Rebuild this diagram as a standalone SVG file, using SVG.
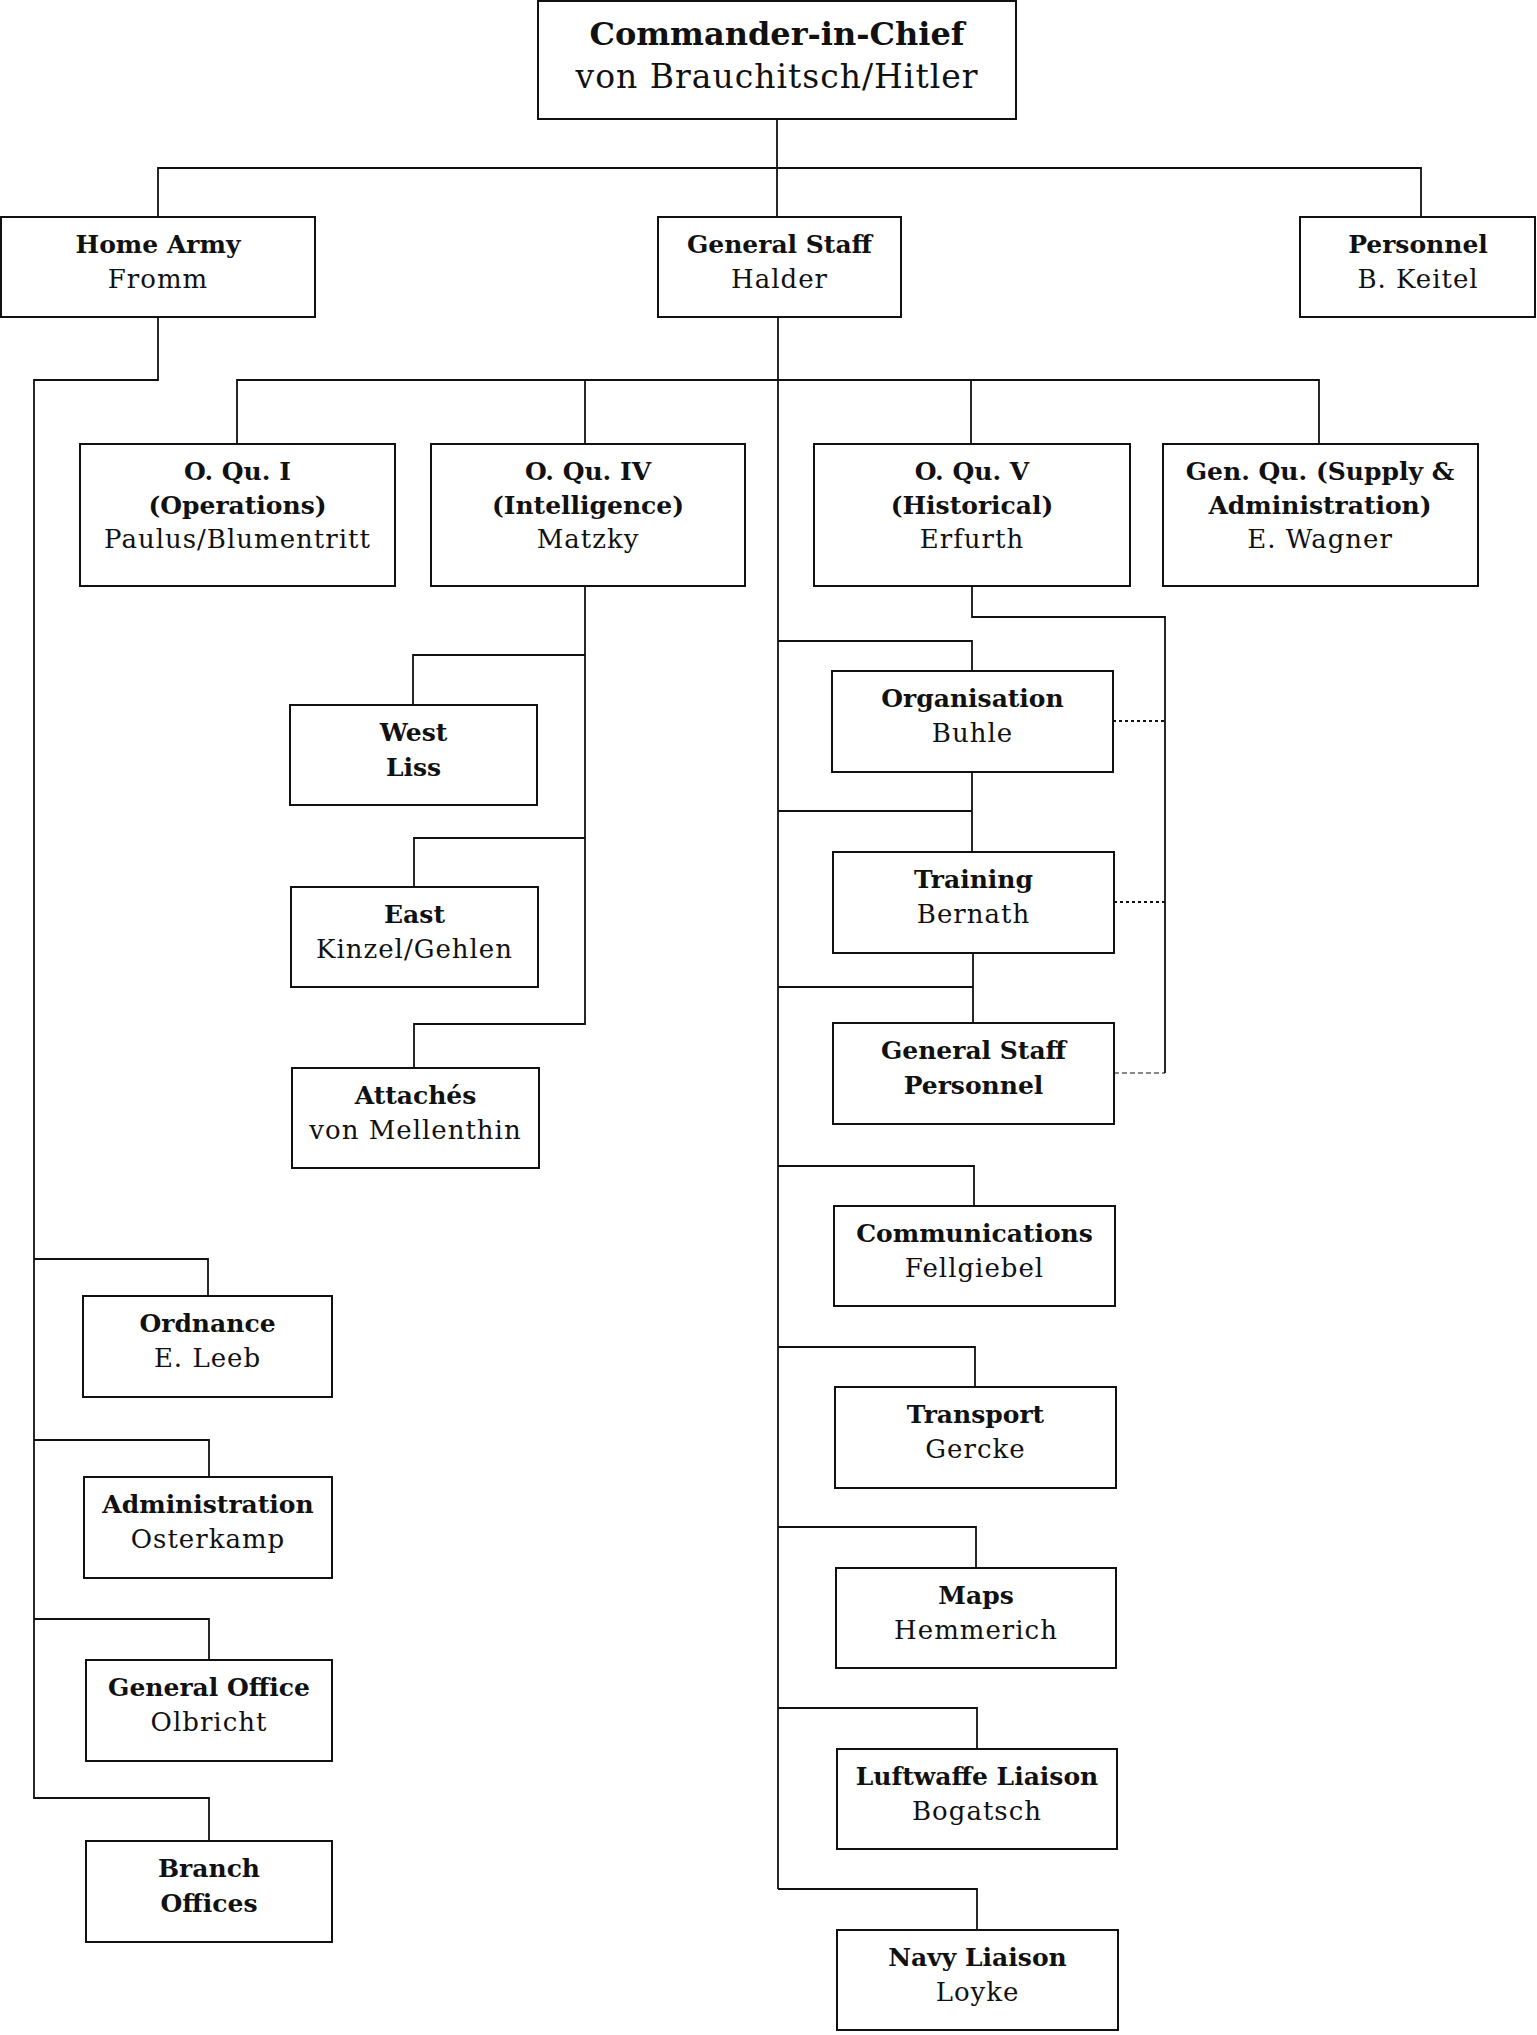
<svg xmlns="http://www.w3.org/2000/svg" width="1537" height="2035" viewBox="0 0 1537 2035">
<style>
.box{fill:#fff;stroke:#111;stroke-width:2}
text{font-family:"DejaVu Serif","Liberation Serif",serif;font-size:26px;letter-spacing:1px;text-anchor:middle;fill:#111}
.b{font-weight:bold;font-size:25px;letter-spacing:0}
.big{font-size:32px}
.big2{font-size:33px}
.ln{fill:none;stroke:#111;stroke-width:1.8}
.dot{fill:none;stroke:#111;stroke-width:1.8;stroke-dasharray:3 3}
.dash{fill:none;stroke:#111;stroke-width:1.2;stroke-dasharray:5 3}
</style>
<rect width="1537" height="2035" fill="#fff"/>
<g id="connectors">
<path class="ln" d="M777 119V217M158 217V168H1421V217"/>
<path class="ln" d="M778 317V1889"/>
<path class="ln" d="M237 444V380H1319V444M585 380V444M971 380V444"/>
<path class="ln" d="M158 317V380H34V1798H209V1841M34 1259H208V1296M34 1440H209V1477M34 1619H209V1660"/>
<path class="ln" d="M585 586V1024H414V1068M585 655H413V705M585 838H414V887"/>
<path class="ln" d="M972 586V617H1165V1073"/>
<path class="dot" d="M1113 721H1165M1114 902H1165"/>
<path class="dash" d="M1114 1073H1165"/>
<path class="ln" d="M778 641H972V671M972 772V852M778 811H972M973 953V1023M778 987H973M778 1166H974V1206M778 1347H975V1387M778 1527H976V1568M778 1708H977V1749M778 1889H977V1930"/>
</g>
<g id="cinc"><rect class="box" x="538" y="1" width="478" height="118"/><text class="b big" x="777" y="45">Commander-in-Chief</text><text class="big2" x="777" y="88">von Brauchitsch/Hitler</text></g>
<g id="home-army"><rect class="box" x="1" y="217" width="314" height="100"/><text class="b" x="158" y="253">Home Army</text><text x="158" y="288">Fromm</text></g>
<g id="general-staff"><rect class="box" x="658" y="217" width="243" height="100"/><text class="b" x="779.5" y="253">General Staff</text><text x="779.5" y="288">Halder</text></g>
<g id="personnel"><rect class="box" x="1300" y="217" width="235" height="100"/><text class="b" x="1418" y="253">Personnel</text><text x="1418" y="288">B. Keitel</text></g>
<g id="oqu1"><rect class="box" x="80" y="444" width="315" height="142"/><text class="b" x="237.5" y="480">O. Qu. I</text><text class="b" x="237.5" y="514">(Operations)</text><text x="237.5" y="548">Paulus/Blumentritt</text></g>
<g id="oqu4"><rect class="box" x="431" y="444" width="314" height="142"/><text class="b" x="588" y="480">O. Qu. IV</text><text class="b" x="588" y="514">(Intelligence)</text><text x="588" y="548">Matzky</text></g>
<g id="oqu5"><rect class="box" x="814" y="444" width="316" height="142"/><text class="b" x="972" y="480">O. Qu. V</text><text class="b" x="972" y="514">(Historical)</text><text x="972" y="548">Erfurth</text></g>
<g id="genqu"><rect class="box" x="1163" y="444" width="315" height="142"/><text class="b" x="1320" y="480">Gen. Qu. (Supply &amp;</text><text class="b" x="1320" y="514">Administration)</text><text x="1320" y="548">E. Wagner</text></g>
<g id="west"><rect class="box" x="290" y="705" width="247" height="100"/><text class="b" x="413.5" y="741">West</text><text class="b" x="413.5" y="776">Liss</text></g>
<g id="east"><rect class="box" x="291" y="887" width="247" height="100"/><text class="b" x="414.5" y="923">East</text><text x="414.5" y="958">Kinzel/Gehlen</text></g>
<g id="attaches"><rect class="box" x="292" y="1068" width="247" height="100"/><text class="b" x="415.5" y="1104">Attachés</text><text x="415.5" y="1139">von Mellenthin</text></g>
<g id="organisation"><rect class="box" x="832" y="671" width="281" height="101"/><text class="b" x="972.5" y="707">Organisation</text><text x="972.5" y="742">Buhle</text></g>
<g id="training"><rect class="box" x="833" y="852" width="281" height="101"/><text class="b" x="973.5" y="888">Training</text><text x="973.5" y="923">Bernath</text></g>
<g id="gs-personnel"><rect class="box" x="833" y="1023" width="281" height="101"/><text class="b" x="973.5" y="1059">General Staff</text><text class="b" x="973.5" y="1094">Personnel</text></g>
<g id="communications"><rect class="box" x="834" y="1206" width="281" height="100"/><text class="b" x="974.5" y="1242">Communications</text><text x="974.5" y="1277">Fellgiebel</text></g>
<g id="transport"><rect class="box" x="835" y="1387" width="281" height="101"/><text class="b" x="975.5" y="1423">Transport</text><text x="975.5" y="1458">Gercke</text></g>
<g id="maps"><rect class="box" x="836" y="1568" width="280" height="100"/><text class="b" x="976" y="1604">Maps</text><text x="976" y="1639">Hemmerich</text></g>
<g id="luftwaffe"><rect class="box" x="837" y="1749" width="280" height="100"/><text class="b" x="977" y="1785">Luftwaffe Liaison</text><text x="977" y="1820">Bogatsch</text></g>
<g id="navy"><rect class="box" x="837" y="1930" width="281" height="100"/><text class="b" x="977.5" y="1966">Navy Liaison</text><text x="977.5" y="2001">Loyke</text></g>
<g id="ordnance"><rect class="box" x="83" y="1296" width="249" height="101"/><text class="b" x="207.5" y="1332">Ordnance</text><text x="207.5" y="1367">E. Leeb</text></g>
<g id="administration"><rect class="box" x="84" y="1477" width="248" height="101"/><text class="b" x="208" y="1513">Administration</text><text x="208" y="1548">Osterkamp</text></g>
<g id="general-office"><rect class="box" x="86" y="1660" width="246" height="101"/><text class="b" x="209" y="1696">General Office</text><text x="209" y="1731">Olbricht</text></g>
<g id="branch-offices"><rect class="box" x="86" y="1841" width="246" height="101"/><text class="b" x="209" y="1877">Branch</text><text class="b" x="209" y="1912">Offices</text></g>
</svg>
